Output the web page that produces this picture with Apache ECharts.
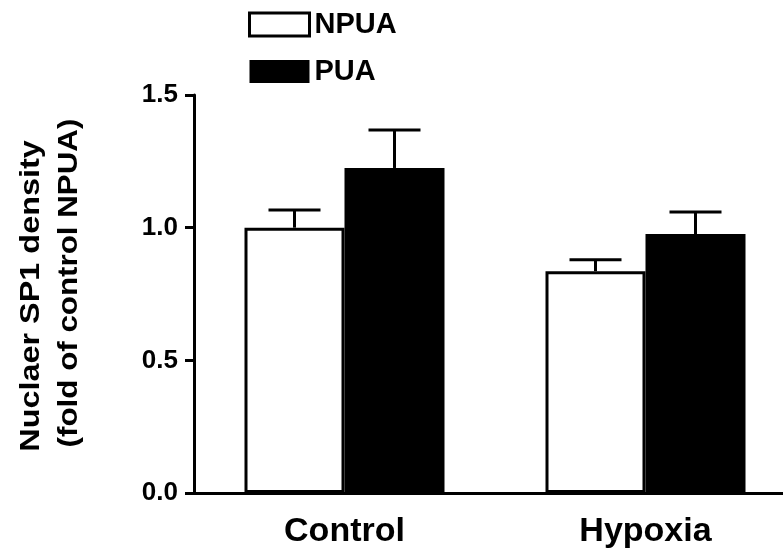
<!DOCTYPE html>
<html>
<head>
<meta charset="utf-8">
<script src="https://cdn.jsdelivr.net/npm/echarts@6/dist/echarts.min.js"></script>
<style>
html,body{margin:0;padding:0;background:#fff;overflow:hidden;width:783px;height:559px;}
#c{width:800px;height:559px;}
</style>
</head>
<body>
<div id="c"></div>
<script>
const categories = ['Control', 'Hypoxia'];
const npuaValues = [1.0, 0.836];
const npuaErrors = [0.067, 0.043];
const puaValues = [1.225, 0.976];
const puaErrors = [0.143, 0.083];
const yTicks = [0.0, 0.5, 1.0, 1.5];
const yTitle1 = 'Nuclaer SP1 density';
const yTitle2 = '(fold of control NPUA)';

const FONT = '"Liberation Sans", Arial, sans-serif';
const BAR_W = 100;

function errData(vals, errs) {
  return vals.map((v, i) => [i, v, errs[i]]);
}
function errSeries(name, vals, errs, offset) {
  return {
    type: 'custom',
    name: name + ' err',
    data: errData(vals, errs),
    z: 5,
    renderItem: function (params, api) {
      const cat = api.value(0), v = api.value(1), e = api.value(2);
      const base = api.coord([cat, v]);
      const top = api.coord([cat, v + e]);
      const x = base[0] + offset;
      const st = { stroke: '#000', lineWidth: 3 };
      return {
        type: 'group',
        children: [
          { type: 'line', shape: { x1: x, y1: base[1], x2: x, y2: top[1] }, style: st },
          { type: 'line', shape: { x1: x - 26, y1: top[1], x2: x + 26, y2: top[1] }, style: st }
        ]
      };
    }
  };
}

const chart = echarts.init(document.getElementById('c'), null, { renderer: 'canvas' });
chart.setOption({
  backgroundColor: '#fff',
  animation: false,
  textStyle: { fontFamily: FONT },
  grid: { left: 194, top: 95, right: 4, bottom: 66, containLabel: false },
  legend: {
    orient: 'vertical',
    left: 248,
    top: 10,
    padding: 0,
    itemWidth: 60,
    itemHeight: 23,
    itemGap: 18,
    textStyle: { fontSize: 29, fontWeight: 'bold', color: '#000', fontFamily: FONT },
    data: [
      { name: 'NPUA', icon: 'rect', itemStyle: { color: '#fff', borderColor: '#000', borderWidth: 3 } },
      { name: 'PUA', icon: 'rect', itemStyle: { color: '#000', borderColor: '#000', borderWidth: 0 } }
    ]
  },
  xAxis: {
    type: 'category',
    data: categories,
    axisLine: { lineStyle: { color: '#000', width: 3 } },
    axisTick: { show: false },
    axisLabel: { fontSize: 34, fontWeight: 'bold', color: '#000', margin: 22, fontFamily: FONT },
    splitLine: { show: false }
  },
  yAxis: {
    type: 'value',
    min: yTicks[0],
    max: yTicks[yTicks.length - 1],
    interval: 0.5,
    axisLine: { show: true, lineStyle: { color: '#000', width: 3 } },
    axisTick: { show: true, length: 9, lineStyle: { color: '#000', width: 3 } },
    axisLabel: { fontSize: 26, fontWeight: 'bold', color: '#000', margin: 16, fontFamily: FONT,
      formatter: v => v.toFixed(1) },
    splitLine: { show: false }
  },
  graphic: [
    { type: 'text', x: 32, y: 296, rotation: Math.PI / 2, scaleX: 1.2, scaleY: 1,
      style: { text: yTitle1, font: 'bold 27px ' + FONT, fill: '#000', align: 'center', verticalAlign: 'middle' } },
    { type: 'text', x: 70, y: 283, rotation: Math.PI / 2, scaleX: 1.16, scaleY: 1,
      style: { text: yTitle2, font: 'bold 27px ' + FONT, fill: '#000', align: 'center', verticalAlign: 'middle' } }
  ],
  series: [
    { type: 'bar', name: 'NPUA', data: npuaValues, barWidth: BAR_W, barGap: '0%',
      itemStyle: { color: '#fff', borderColor: '#000', borderWidth: 3 } },
    { type: 'bar', name: 'PUA', data: puaValues, barWidth: BAR_W, barGap: '0%',
      itemStyle: { color: '#000', borderColor: '#000', borderWidth: 0 } },
    errSeries('NPUA', npuaValues, npuaErrors, -BAR_W / 2),
    errSeries('PUA', puaValues, puaErrors, BAR_W / 2)
  ]
});
</script>
</body>
</html>
